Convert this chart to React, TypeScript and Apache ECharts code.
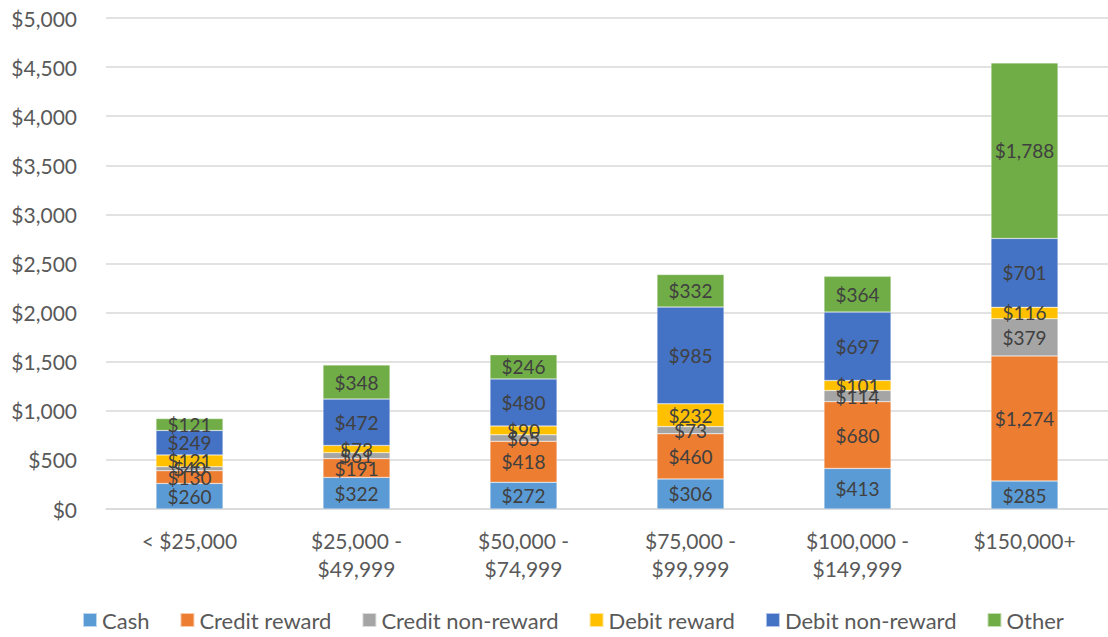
import React, { useEffect, useRef } from "react";
import * as echarts from "echarts";

const categories = ["< $25,000", "$25,000 -\n$49,999", "$50,000 -\n$74,999", "$75,000 -\n$99,999", "$100,000 -\n$149,999", "$150,000+"];
const seriesNames = ["Cash", "Credit reward", "Credit non-reward", "Debit reward", "Debit non-reward", "Other"];
const cash = [260, 322, 272, 306, 413, 285];
const creditReward = [130, 191, 418, 460, 680, 1274];
const creditNonReward = [40, 61, 65, 73, 114, 379];
const debitReward = [121, 73, 90, 232, 101, 116];
const debitNonReward = [249, 472, 480, 985, 697, 701];
const other = [121, 348, 246, 332, 364, 1788];
const colors = ["#5B9BD5", "#ED7D31", "#A5A5A5", "#FFC000", "#4472C4", "#70AD47"];

const FONT = "Lato, 'Liberation Sans', sans-serif";

export default function App() {
  const ref = useRef<HTMLDivElement>(null);
  useEffect(() => {
    if (!ref.current) return;
    const chart = echarts.init(ref.current, null, { renderer: "svg" });
    const values = [cash, creditReward, creditNonReward, debitReward, debitNonReward, other];
    const fmt = (v: number) => "$" + v.toLocaleString("en-US");
    chart.setOption({
      animation: false,
      textStyle: { fontFamily: FONT },
      grid: { left: 106, top: 18, width: 1011, height: 491 },
      legend: {
        left: 77,
        top: 604,
        itemWidth: 14,
        itemHeight: 14,
        itemGap: 30,
        icon: "rect",
        textStyle: { fontSize: 22, color: "#595959", fontFamily: FONT },
        data: seriesNames,
      },
      xAxis: {
        type: "category",
        data: categories,
        axisLine: { lineStyle: { color: "#d9d9d9", width: 1.5 } },
        axisTick: { show: false },
        axisLabel: { color: "#595959", fontSize: 21, lineHeight: 28, margin: 17, interval: 0, fontFamily: FONT },
      },
      yAxis: {
        type: "value",
        min: 0,
        max: 5000,
        interval: 500,
        axisLabel: { color: "#595959", fontSize: 21, margin: 29, formatter: (v: number) => fmt(v), fontFamily: FONT },
        splitLine: { lineStyle: { color: "#d9d9d9", width: 1.5 } },
        axisLine: { show: false },
        axisTick: { show: false },
      },
      series: seriesNames.map((name, i) => ({
        name,
        type: "bar",
        stack: "total",
        barWidth: 67,
        data: values[i],
        itemStyle: { color: colors[i], borderColor: "rgba(255,255,255,0.6)", borderWidth: 0.5 },
        label: {
          show: true,
          position: "inside",
          color: "#404040",
          fontSize: 19,
          fontFamily: FONT,
          formatter: (p: any) => fmt(p.value),
        },
      })),
    });
    return () => chart.dispose();
  }, []);
  return <div ref={ref} style={{ position: "fixed", left: 0, top: 0, width: 1108, height: 637, background: "#fff" }} />;
}
